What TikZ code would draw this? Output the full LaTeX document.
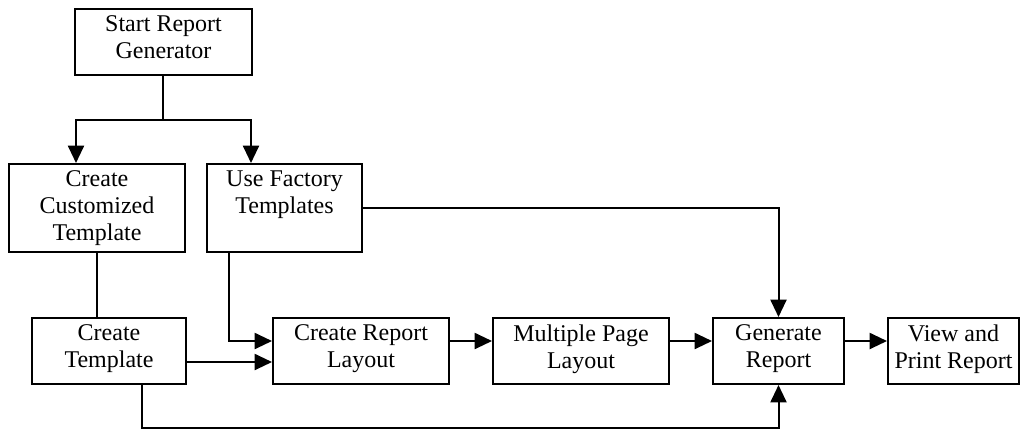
\documentclass[tikz,border=0pt]{standalone}
\usepackage{fontspec}
\setmainfont{Liberation Serif}
\usetikzlibrary{arrows.meta,fit,calc}
\begin{document}
\begin{tikzpicture}[x=0.75pt,y=-0.75pt,
  box/.style={draw=black, line width=1.5pt, inner sep=0pt, rectangle},
  lbl/.style={anchor=north, inner sep=0pt, align=center, font=\fontsize{18}{20.25}\selectfont, yshift=-5.4pt},
  conn/.style={line width=1.5pt},
  arr/.style={conn, -{Triangle[length=13pt,width=12pt]}}]
\fill[white] (0,0) rectangle (1020,430);
\useasboundingbox (0,0) rectangle (1020,430);

% boxes
\node[box, fit={(75,9) (252,75)}] (start) {};
\node[box, fit={(9,164) (185,252)}] (custom) {};
\node[box, fit={(207,164) (362,252)}] (factory) {};
\node[box, fit={(32,318) (186,384)}] (template) {};
\node[box, fit={(273,318) (449,384)}] (layout) {};
\node[box, fit={(493,318) (669,384)}] (multi) {};
\node[box, fit={(713,318) (844,384)}] (gen) {};
\node[box, fit={(888,318) (1019,384)}] (view) {};

% labels
\node[lbl] (tstart) at (start.north) {Start Report\\Generator};
\node[lbl] (tcustom) at (custom.north) {Create\\Customized\\Template};
\node[lbl] (tfactory) at (factory.north) {Use Factory\\Templates};
\node[lbl] (ttemplate) at (template.north) {Create\\Template};
\node[lbl] (tlayout) at (layout.north) {Create Report\\Layout};
\node[lbl] (tmulti) at (multi.north) {Multiple Page\\Layout};
\node[lbl] (tgen) at (gen.north) {Generate\\Report};
\node[lbl] (tview) at (view.north) {View and\\Print Report};

% helper coordinates
\coordinate (split) at (163,120);
\coordinate (cA) at (76,120);
\coordinate (cB) at (251,120);
\coordinate (rowA) at (0,341);
\coordinate (rowB) at (0,362);
\coordinate (fx) at (229,341);
\coordinate (low) at (142,428);

% connectors
\draw[conn] (split |- start.south) -- (split);
\draw[arr] (split) -- (cA) -- (cA |- custom.north);
\draw[arr] (split) -- (cB) -- (cB |- factory.north);
\draw[conn] (custom.south) -- (custom.south |- template.north);
\draw[arr] (factory.east) -| (gen.north);
\draw[arr] (fx |- factory.south) -- (fx) -- (fx -| layout.west);
\draw[arr] (template.east |- rowB) -- (layout.west |- rowB);
\draw[arr] (low |- template.south) -- (low) -| (gen.south);
\draw[arr] (layout.east |- rowA) -- (multi.west |- rowA);
\draw[arr] (multi.east |- rowA) -- (gen.west |- rowA);
\draw[arr] (gen.east |- rowA) -- (view.west |- rowA);
\end{tikzpicture}
\end{document}
